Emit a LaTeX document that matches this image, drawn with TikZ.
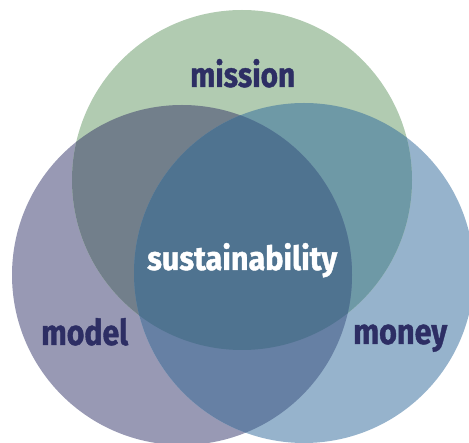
\documentclass[tikz,border=0pt]{standalone}
\usepackage{fontspec}
\setmainfont{Fira Sans}
\newfontfamily\heavy{Fira Sans Bold}[FakeBold=1.2]
\usepackage{graphicx}
\definecolor{cgreen}{HTML}{B1CBB1}
\definecolor{cpurple}{HTML}{9899B4}
\definecolor{cblue}{HTML}{96B3CC}
\definecolor{cgp}{HTML}{727F8B}
\definecolor{cgb}{HTML}{6E99A6}
\definecolor{cpb}{HTML}{6680A4}
\definecolor{ccenter}{HTML}{4F7390}
\definecolor{navy}{HTML}{2D2E64}
\tikzset{lbl/.style={anchor=base west,inner sep=0pt,font=\heavy}}
\begin{document}
\begin{tikzpicture}[x=1pt,y=-1pt]
\useasboundingbox (0,0) rectangle (469,443);
\clip (0,0) rectangle (469,443);
\def\R{170}
\coordinate (G) at (242,180);
\coordinate (P) at (182,275);
\coordinate (B) at (304,273);
\fill[cpurple] (P) circle (\R);
\fill[cblue] (B) circle (\R);
\fill[cgreen] (G) circle (\R);
\begin{scope}\clip (G) circle (\R); \fill[cgp] (P) circle (\R);\end{scope}
\begin{scope}\clip (G) circle (\R); \fill[cgb] (B) circle (\R);\end{scope}
\begin{scope}\clip (P) circle (\R); \fill[cpb] (B) circle (\R);\end{scope}
\begin{scope}\clip (G) circle (\R); \clip (P) circle (\R); \fill[ccenter] (B) circle (\R);\end{scope}
\node[lbl,text=navy] (mission) at (190,87) {\resizebox{105pt}{28pt}{\vphantom{dl}mission}};
\node[lbl,text=white] (sust) at (147,270) {\resizebox{190pt}{27pt}{\vphantom{dl}sustainability}};
\node[lbl,text=navy] (model) at (41,345) {\resizebox{87pt}{27pt}{\vphantom{dl}model}};
\node[lbl,text=navy] (money) at (353,344) {\resizebox{94pt}{27pt}{\vphantom{dl}money}};
\end{tikzpicture}
\end{document}
